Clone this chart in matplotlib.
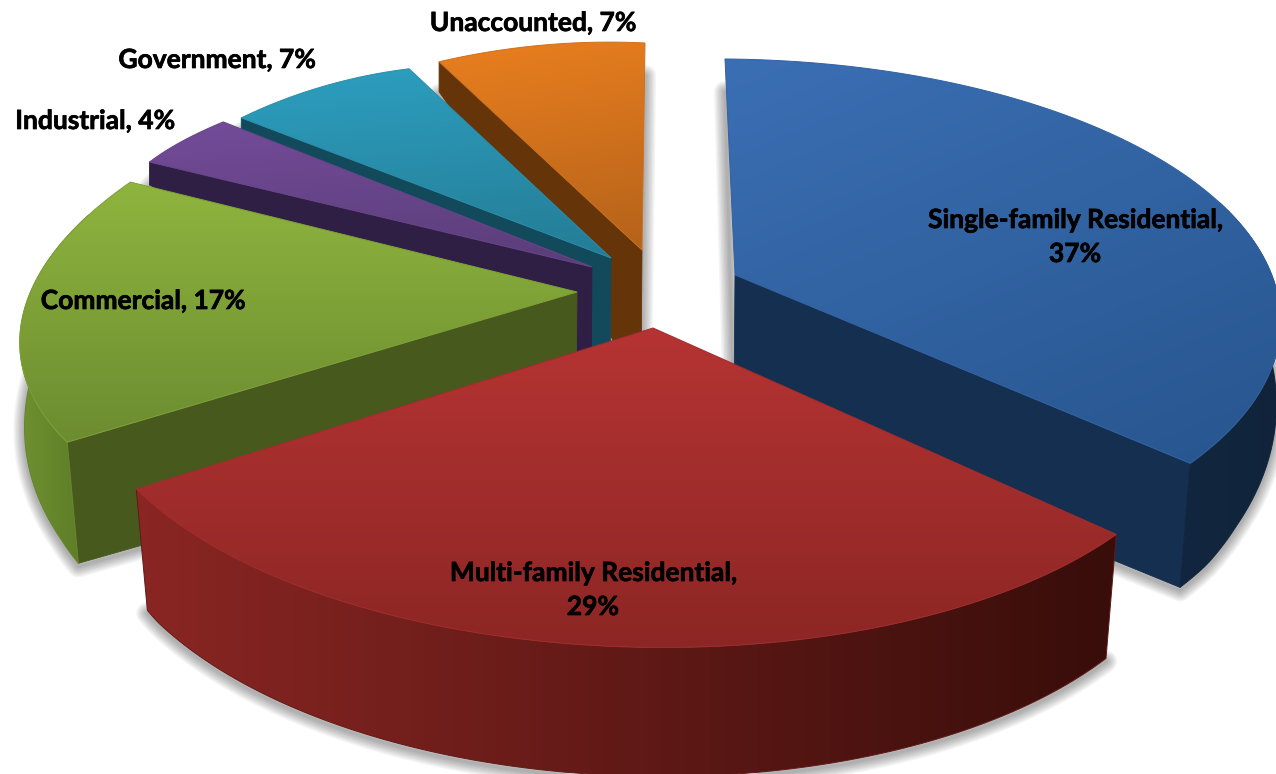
import numpy as np
import matplotlib
matplotlib.use("Agg")
import matplotlib.pyplot as plt
import matplotlib.patheffects as pe
from matplotlib.colors import LinearSegmentedColormap
from matplotlib.patches import Polygon

# Share of water use by customer class
categories = ["Single-family Residential", "Multi-family Residential", "Commercial",
              "Industrial", "Government", "Unaccounted"]
shares = [37, 29, 17, 4, 7, 7]

# Exploded position of each slice's tip on the top plane
tips = [(735, 275), (653, 328), (577, 292), (592, 267), (611, 258), (642, 250)]
# small per-slice corrections of the rim ends (start dx, dy, end dx, dy)
rim_nudge = [(-10, -4, -8, -7), (0, 11, -12, -2), (-5, -13, 5, -8),
             (9, -3, 1, 0), (0, 5, -7, 6), (-8, 7, 3, 5)]
label_xy = [(1075, 237), (593, 590), (143, 301), (95, 121), (217, 60), (533, 23)]
label_break = [True, True, False, False, False, False]

# top-face gradient (start, end, direction in degrees), outer wall (left, right), edge wall
top_colors = [("#3b6fb4", "#27558e", 60), ("#b63433", "#8c2624", 90), ("#8fb53e", "#6c8c30", 90),
              ("#744c9a", "#5a3d78", 75), ("#2d9fc0", "#247c95", 80), ("#ea7f1f", "#b4621a", 80)]
wall_colors = [("#12273f", "#10233a"), ("#8a2623", "#380d0a"), ("#6f9130", "#5b7a27"),
               ("#2f1f45", "#2f1f45"), ("#124a5c", "#124a5c"), ("#653409", "#653409")]
edge_colors = ["#152f50", "#4a1512", "#48591e", "#2f1f45", "#124a5c", "#653409"]

# Projection of the pie plane onto the page
RX_LEFT, RX_RIGHT, RY, PERSP = 545.0, 540.0, 254.0, 0.198
TIP_DEPTH = 130.0


def project(tip, theta, nudge):
    x, y = np.sin(theta), np.cos(theta)
    s = 1.0 / (1.0 + PERSP * y)
    rx = np.where(x < 0, RX_LEFT, RX_RIGHT)
    t = (theta - theta[0]) / (theta[-1] - theta[0])
    w0, w1 = (1 - t) ** 2, t ** 2
    return (tip[0] + rx * x * s + w0 * nudge[0] + w1 * nudge[2],
            tip[1] - RY * y * s + w0 * nudge[1] + w1 * nudge[3])


def lower(px, py, theta):
    # lower rim of the slab, given the upper rim
    x, y = np.sin(theta), np.cos(theta)
    s = 1.0 / (1.0 + PERSP * y)
    d = np.interp(y, [-1, -0.6, 0, 0.435, 0.643, 0.906], [129, 123, 85, 23, 12, 30])
    inward = 12 * x * s * np.clip(-2 * y, 0, 1)
    return px - inward, py + d


def gradient_fill(ax, pts, c0, c1, angle, z):
    pts = np.asarray(pts)
    x0, y0 = pts.min(axis=0)
    x1, y1 = pts.max(axis=0)
    u, v = np.meshgrid(np.linspace(0, 1, 256), np.linspace(0, 1, 256))
    a = np.radians(angle)
    t = u * np.cos(a) + v * np.sin(a)
    t = (t - t.min()) / (t.max() - t.min())
    cmap = LinearSegmentedColormap.from_list("g", [c0, c1])
    im = ax.imshow(t, cmap=cmap, extent=(x0, x1 + 1, y1 + 1, y0), origin="upper",
                   aspect="auto", zorder=z, interpolation="bilinear")
    patch = Polygon(pts, closed=True, transform=ax.transData, fc="none", ec="none")
    ax.add_patch(patch)
    im.set_clip_path(patch)
    rgb0, rgb1 = matplotlib.colors.to_rgb(c0), matplotlib.colors.to_rgb(c1)
    ec = tuple((rgb0[k] + rgb1[k]) / 2 for k in range(3))
    ax.add_patch(Polygon(pts, closed=True, fc="none", ec=ec, lw=0.7, zorder=z + 0.1))


fig = plt.figure(figsize=(12.76, 7.74), dpi=100)
ax = fig.add_axes([0, 0, 1, 1])

total = sum(shares)
edges = np.radians(np.concatenate([[0], np.cumsum(shares)]) / total * 360.0)

# back-to-front painting order
order = [5, 4, 3, 2, 0, 1]

# soft shadows cast by the lower faces
for i in order:
    th = np.linspace(edges[i], edges[i + 1], 80)
    px, py = project(tips[i], th, rim_nudge[i])
    bx, by = lower(px, py, th)
    sx = np.concatenate([[tips[i][0] - 1], bx])
    sy = np.concatenate([[tips[i][1] + TIP_DEPTH], by]) + 3
    for lw in np.arange(16, 1, -2):
        ax.plot(np.append(sx, sx[0]), np.append(sy, sy[0]), color="#000000",
                alpha=0.045, lw=lw, zorder=1, solid_joinstyle="round")

z = 10
for i in order:
    th = np.linspace(edges[i], edges[i + 1], 120)
    px, py = project(tips[i], th, rim_nudge[i])
    bx, by = lower(px, py, th)
    tip = np.array(tips[i], float)
    tip_low = tip + (-1, TIP_DEPTH)

    # straight wall that faces the viewer
    start_deg, end_deg = np.degrees(edges[i]), np.degrees(edges[i + 1])
    if 180 < start_deg < 360:
        quad = [tip, (px[0], py[0]), (bx[0], by[0]), tip_low]
        ax.add_patch(Polygon(quad, closed=True, fc=edge_colors[i], ec=edge_colors[i],
                             lw=0.6, zorder=z))
    if 0 < end_deg < 180:
        quad = [tip, (px[-1], py[-1]), (bx[-1], by[-1]), tip_low]
        ax.add_patch(Polygon(quad, closed=True, fc=edge_colors[i], ec=edge_colors[i],
                             lw=0.6, zorder=z))

    # curved outer wall, only along the part of the rim that faces forward
    front = np.cos(th) < 0.3
    if front.sum() > 1:
        wall = np.vstack([np.column_stack([px[front], py[front]]),
                          np.column_stack([bx[front], by[front]])[::-1]])
        c0, c1 = wall_colors[i]
        gradient_fill(ax, wall, c0, c1, 0, z + 1)

    # top face
    top = np.vstack([tip, np.column_stack([px, py])])
    c0, c1, ang = top_colors[i]
    gradient_fill(ax, top, c0, c1, ang, z + 2)
    z += 5

# data labels
for i, name in enumerate(categories):
    sep = ",\n" if label_break[i] else ", "
    ax.text(label_xy[i][0], label_xy[i][1], f"{name}{sep}{shares[i]}%",
            ha="center", va="center", fontsize=19, fontweight="bold",
            family="Lato", color="black", zorder=100, linespacing=1.5,
            path_effects=[pe.withStroke(linewidth=0.5, foreground="black")])

ax.set_xlim(0, 1276)
ax.set_ylim(774, 0)
ax.axis("off")
fig.savefig("out.png", dpi=100, facecolor="white")
